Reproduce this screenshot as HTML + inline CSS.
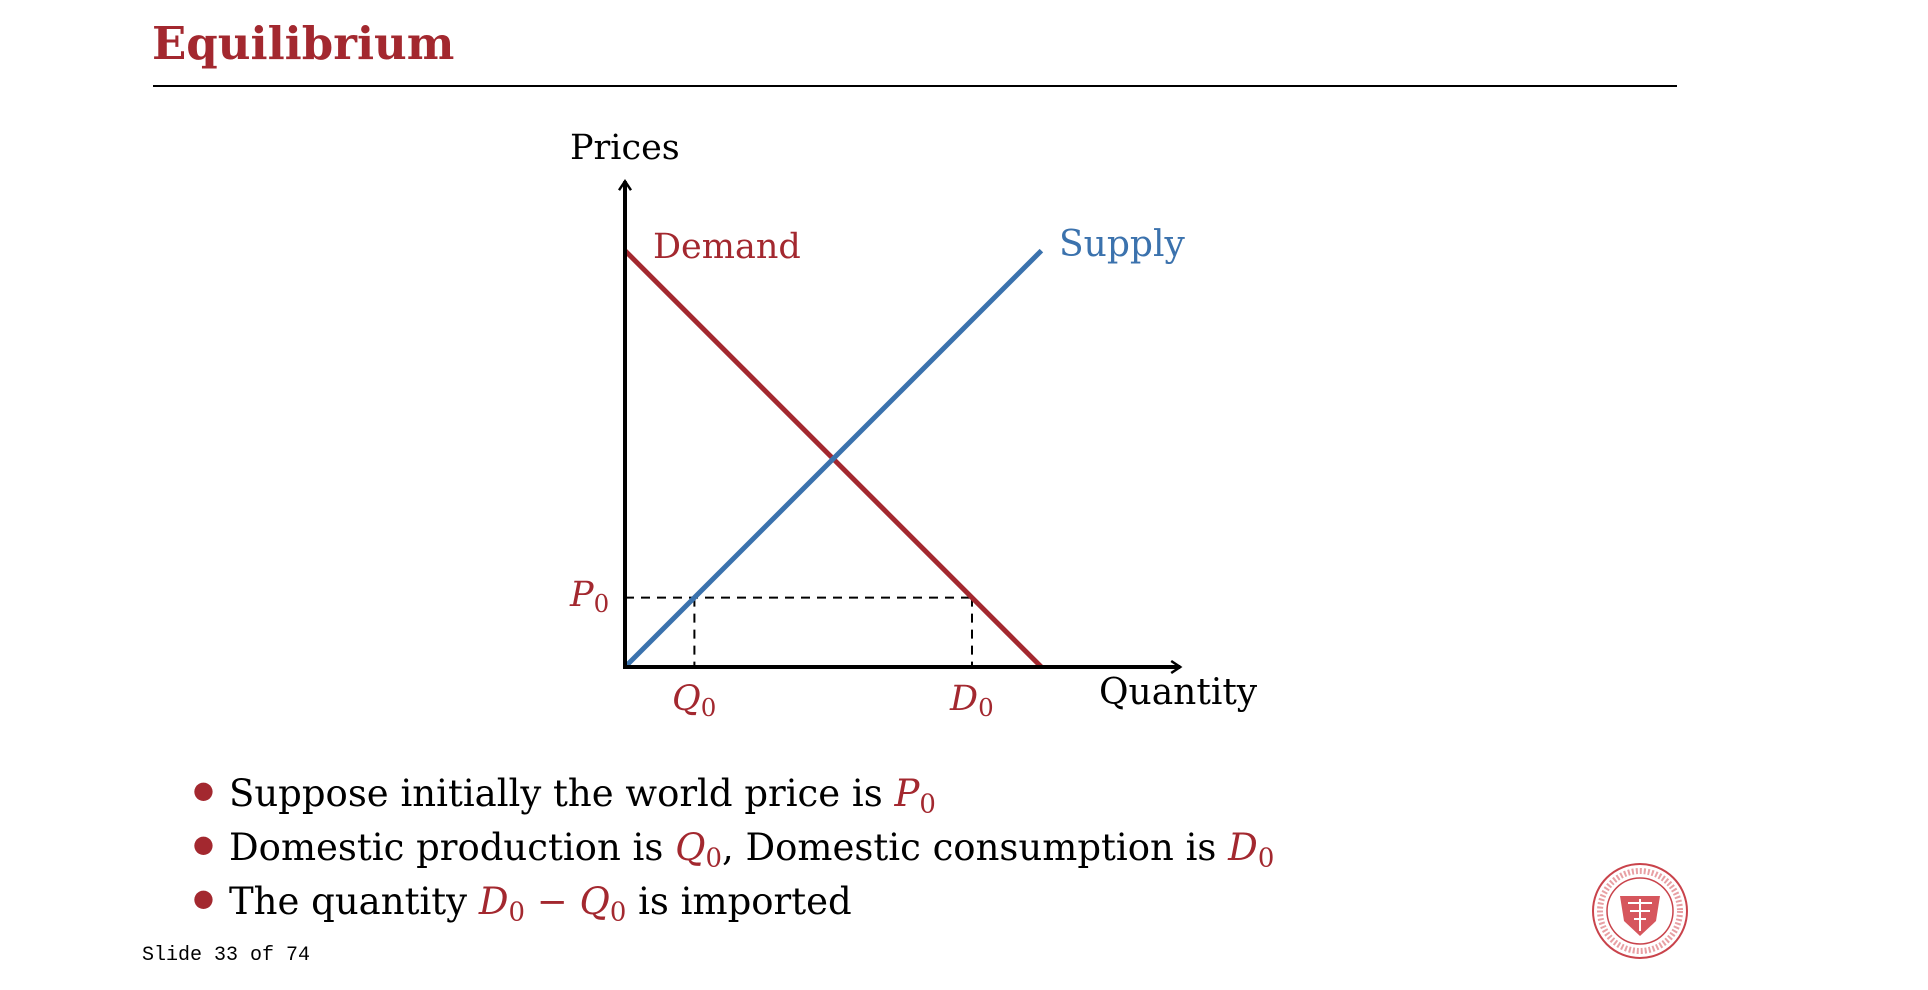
<!DOCTYPE html>
<html><head><meta charset="utf-8"><style>
body{margin:0;background:#fff;width:1928px;height:990px;overflow:hidden;font-family:"DejaVu Serif",serif}
.t{position:absolute;white-space:nowrap}
.r{color:#a3282f}
i{font-style:italic}
sub{font-size:0.7em;vertical-align:-0.25em;font-style:normal;line-height:0}
</style></head><body>
<div class="t r" style="left:152px;top:17px;font-size:45px;font-weight:bold;color:#a3282f">Equilibrium</div>
<div style="position:absolute;left:153px;top:85px;width:1524px;height:2px;background:#000"></div>
<svg id="chart" width="1928" height="990" style="position:absolute;left:0;top:0">
<defs><marker id="ar" markerWidth="14" markerHeight="14" refX="11" refY="7" orient="auto" markerUnits="userSpaceOnUse"><path d="M2,1 L11,7 L2,13" fill="none" stroke="#000" stroke-width="2.5"/></marker></defs>
</svg>
<div class="t" style="left:570px;top:128px;font-size:35px">Prices</div>
<div class="t" style="left:1099px;top:672px;font-size:36px">Quantity</div>
<div class="t r" style="left:653px;top:227px;font-size:35px">Demand</div>
<div class="t" style="left:1059px;top:224px;font-size:36px;color:#3b72ad">Supply</div>
<div class="t r" style="left:570px;top:575px;font-size:35px"><i>P</i><sub>0</sub></div>
<div class="t r" style="left:672px;top:679px;font-size:35px"><i>Q</i><sub>0</sub></div>
<div class="t r" style="left:950px;top:679px;font-size:35px"><i>D</i><sub>0</sub></div>
<div style="position:absolute;left:229px;top:767px;font-size:37px;line-height:54px">
<div style="position:relative"><span class="r" style="position:absolute;left:-36px;top:-4px;font-size:24px">●</span>Suppose initially the world price is <span class="r"><i>P</i><sub>0</sub></span></div>
<div style="position:relative"><span class="r" style="position:absolute;left:-36px;top:-4px;font-size:24px">●</span>Domestic production is <span class="r"><i>Q</i><sub>0</sub></span>, Domestic consumption is <span class="r"><i>D</i><sub>0</sub></span></div>
<div style="position:relative"><span class="r" style="position:absolute;left:-36px;top:-4px;font-size:24px">●</span>The quantity <span class="r"><i>D</i><sub>0</sub> − <i>Q</i><sub>0</sub></span> is imported</div>
</div>
<div class="t" style="left:142px;top:944px;font-family:'Liberation Mono',monospace;font-size:20px">Slide 33 of 74</div>
<svg width="100" height="100" style="position:absolute;left:1590px;top:861px">
<circle cx="50" cy="50" r="47" fill="none" stroke="#c9434b" stroke-width="2"/>
<circle cx="50" cy="50" r="33" fill="none" stroke="#c9434b" stroke-width="1.5"/>
<circle cx="50" cy="50" r="40" fill="none" stroke="#e8a0a4" stroke-width="6" stroke-dasharray="2 2"/>
<path d="M30,35 L70,35 L66,60 L50,75 L34,60 Z" fill="#d6565d"/>
<path d="M38,42 L62,42 M40,50 L60,50 M44,58 L56,58 M50,38 L50,70" stroke="#fff" stroke-width="2"/>
</svg>
<script>
const axisMax=[8,7];
const demandQ=[0,6];
const demandP=[6,0];
const supplyQ=[0,6];
const supplyP=[0,6];
const worldPrice=1;
const domesticProduction=1;
const domesticConsumption=5;
const ox=625,oy=667,unit=69.4;
const X=q=>ox+q*unit, Y=p=>oy-p*unit;
const svg=document.getElementById('chart');
function mk(tag,attrs){const e=document.createElementNS('http://www.w3.org/2000/svg',tag);for(const k in attrs)e.setAttribute(k,attrs[k]);svg.appendChild(e);return e;}
let e;
e=mk('line',{x1:X(0),y1:Y(worldPrice),x2:X(domesticConsumption),y2:Y(worldPrice),stroke:'#000','stroke-width':2,'stroke-dasharray':'9 7'});


e=mk('line',{x1:X(domesticProduction),y1:Y(worldPrice),x2:X(domesticProduction),y2:Y(0),stroke:'#000','stroke-width':2,'stroke-dasharray':'9 7'});


e=mk('line',{x1:X(domesticConsumption),y1:Y(worldPrice),x2:X(domesticConsumption),y2:Y(0),stroke:'#000','stroke-width':2,'stroke-dasharray':'9 7'});


e=mk('line',{x1:X(demandQ[0]),y1:Y(demandP[0]),x2:X(demandQ[1]),y2:Y(demandP[1]),stroke:'#a3282f','stroke-width':5});


e=mk('line',{x1:X(supplyQ[0]),y1:Y(supplyP[0]),x2:X(supplyQ[1]),y2:Y(supplyP[1]),stroke:'#3b72ad','stroke-width':5});


e=mk('line',{x1:X(0),y1:Y(0)+2,x2:X(0),y2:Y(axisMax[1]),stroke:'#000','stroke-width':4,'marker-end':'url(#ar)'});


e=mk('line',{x1:X(0)-2,y1:Y(0),x2:X(axisMax[0]),y2:Y(0),stroke:'#000','stroke-width':4,'marker-end':'url(#ar)'});


</script>
</body></html>
